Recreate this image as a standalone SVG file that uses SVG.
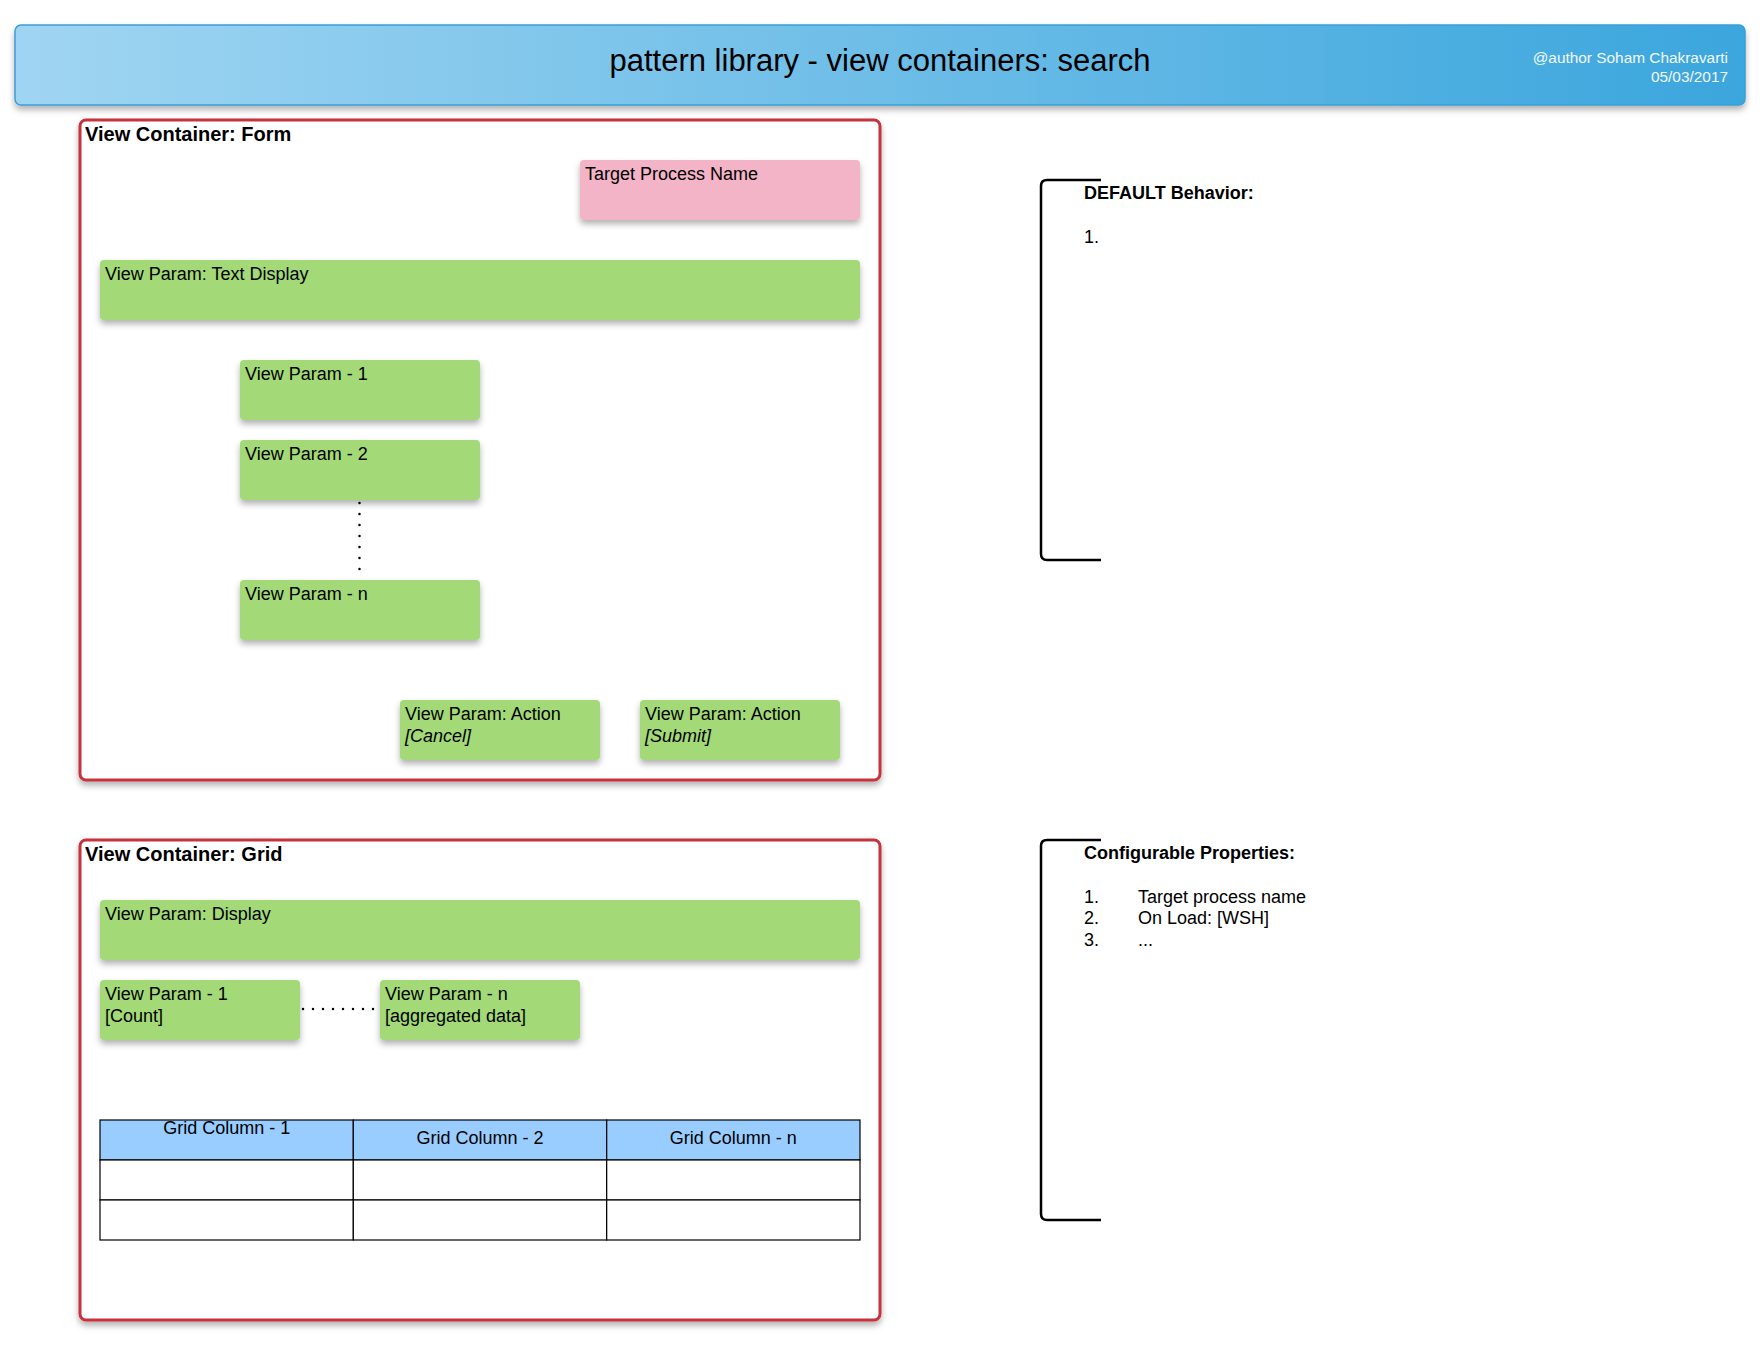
<svg xmlns="http://www.w3.org/2000/svg" width="1760" height="1360" viewBox="0 0 1760 1360">
<defs>
  <linearGradient id="hdr" x1="0" y1="0" x2="1" y2="0">
    <stop offset="0" stop-color="#a0d5f2"/>
    <stop offset="1" stop-color="#3ba6dd"/>
  </linearGradient>
  <filter id="sh" x="-10%" y="-20%" width="120%" height="150%">
    <feDropShadow dx="0" dy="4" stdDeviation="3" flood-color="#000" flood-opacity="0.3"/>
  </filter>
</defs>
<style>
  text { font-family: "Liberation Sans", Arial, sans-serif; fill: #000; }
  .node { fill: #a3d977; filter: url(#sh); }
  .pink { fill: #f4b4c7; filter: url(#sh); }
  .cont { fill: #fff; stroke: #c8323c; stroke-width: 3; filter: url(#sh); }
  .t { font-size: 18px; }
  .it { font-style: italic; }
  .lbl { font-size: 20px; font-weight: bold; }
  .hd { font-size: 18px; font-weight: bold; }
  .br { fill: none; stroke: #000; stroke-width: 2.5; }
  .dots { fill: none; stroke: #000; stroke-width: 2.5; stroke-linecap: round; stroke-dasharray: 0 11; }
  .cell { fill: #fff; stroke: #000; stroke-width: 1.2; }
  .hcell { fill: #99ccff; stroke: #000; stroke-width: 1.2; }
</style>
<rect width="1760" height="1360" fill="#fff"/>

<g id="header">
  <rect x="15" y="25" width="1730" height="80" rx="6" fill="url(#hdr)" stroke="#3a9fd6" stroke-width="1.5" filter="url(#sh)"/>
  <text x="880" y="71" text-anchor="middle" font-size="31" fill="#111">pattern library - view containers: search</text>
  <text x="1728" y="63" text-anchor="end" font-size="15.4" style="fill:#f2f8fc">@author Soham Chakravarti</text>
  <text x="1728" y="82" text-anchor="end" font-size="15.4" style="fill:#f2f8fc">05/03/2017</text>
</g>

<g id="form-container">
  <rect class="cont" x="80" y="120" width="800" height="660" rx="6"/>
  <text class="lbl" x="85" y="141">View Container: Form</text>
</g>
<g id="target-process-name">
  <rect class="pink" x="580" y="160" width="280" height="60" rx="4"/>
  <text class="t" x="585" y="180">Target Process Name</text>
</g>
<g id="form-text-display">
  <rect class="node" x="100" y="260" width="760" height="60" rx="4"/>
  <text class="t" x="105" y="280">View Param: Text Display</text>
</g>
<g id="form-param-1">
  <rect class="node" x="240" y="360" width="240" height="60" rx="4"/>
  <text class="t" x="245" y="380">View Param - 1</text>
</g>
<g id="form-param-2">
  <rect class="node" x="240" y="440" width="240" height="60" rx="4"/>
  <text class="t" x="245" y="460">View Param - 2</text>
</g>
<g id="form-param-n">
  <rect class="node" x="240" y="580" width="240" height="60" rx="4"/>
  <text class="t" x="245" y="600">View Param - n</text>
</g>
<g id="form-action-cancel">
  <rect class="node" x="400" y="700" width="200" height="60" rx="4"/>
  <text class="t" x="405" y="720">View Param: Action</text>
  <text class="t it" x="405" y="742">[Cancel]</text>
</g>
<g id="form-action-submit">
  <rect class="node" x="640" y="700" width="200" height="60" rx="4"/>
  <text class="t" x="645" y="720">View Param: Action</text>
  <text class="t it" x="645" y="742">[Submit]</text>
</g>

<g id="grid-container">
  <rect class="cont" x="80" y="840" width="800" height="480" rx="6"/>
  <text class="lbl" x="85" y="861">View Container: Grid</text>
</g>
<g id="grid-display">
  <rect class="node" x="100" y="900" width="760" height="60" rx="4"/>
  <text class="t" x="105" y="920">View Param: Display</text>
</g>
<g id="grid-param-1">
  <rect class="node" x="100" y="980" width="200" height="60" rx="4"/>
  <text class="t" x="105" y="1000">View Param - 1</text>
  <text class="t" x="105" y="1022">[Count]</text>
</g>
<g id="grid-param-n">
  <rect class="node" x="380" y="980" width="200" height="60" rx="4"/>
  <text class="t" x="385" y="1000">View Param - n</text>
  <text class="t" x="385" y="1022">[aggregated data]</text>
</g>
<g id="grid-table">
  <rect class="hcell" x="100" y="1120" width="253.3" height="40"/>
  <rect class="hcell" x="353.3" y="1120" width="253.4" height="40"/>
  <rect class="hcell" x="606.7" y="1120" width="253.3" height="40"/>
  <rect class="cell" x="100" y="1160" width="253.3" height="40"/>
  <rect class="cell" x="353.3" y="1160" width="253.4" height="40"/>
  <rect class="cell" x="606.7" y="1160" width="253.3" height="40"/>
  <rect class="cell" x="100" y="1200" width="253.3" height="40"/>
  <rect class="cell" x="353.3" y="1200" width="253.4" height="40"/>
  <rect class="cell" x="606.7" y="1200" width="253.3" height="40"/>
  <text class="t" x="226.7" y="1134" text-anchor="middle">Grid Column - 1</text>
  <text class="t" x="480" y="1144" text-anchor="middle">Grid Column - 2</text>
  <text class="t" x="733.3" y="1144" text-anchor="middle">Grid Column - n</text>
</g>

<g id="default-behavior">
  <path class="br" d="M1101,180 H1047 Q1041,180 1041,186 V554 Q1041,560 1047,560 H1101"/>
  <text class="hd" x="1084" y="199">DEFAULT Behavior:</text>
  <text class="t" x="1084" y="243">1.</text>
</g>
<g id="configurable-properties">
  <path class="br" d="M1101,840 H1047 Q1041,840 1041,846 V1214 Q1041,1220 1047,1220 H1101"/>
  <text class="hd" x="1084" y="859">Configurable Properties:</text>
  <text class="t" x="1084" y="903">1.</text>
  <text class="t" x="1138" y="903">Target process name</text>
  <text class="t" x="1084" y="924">2.</text>
  <text class="t" x="1138" y="924">On Load: [WSH]</text>
  <text class="t" x="1084" y="946">3.</text>
  <text class="t" x="1138" y="946">...</text>
</g>

<g id="connectors">
  <line class="dots" x1="359.5" y1="503" x2="359.5" y2="570"/>
  <line class="dots" x1="303" y1="1009" x2="375" y2="1009" style="stroke-dasharray:0 10"/>
</g>
</svg>
